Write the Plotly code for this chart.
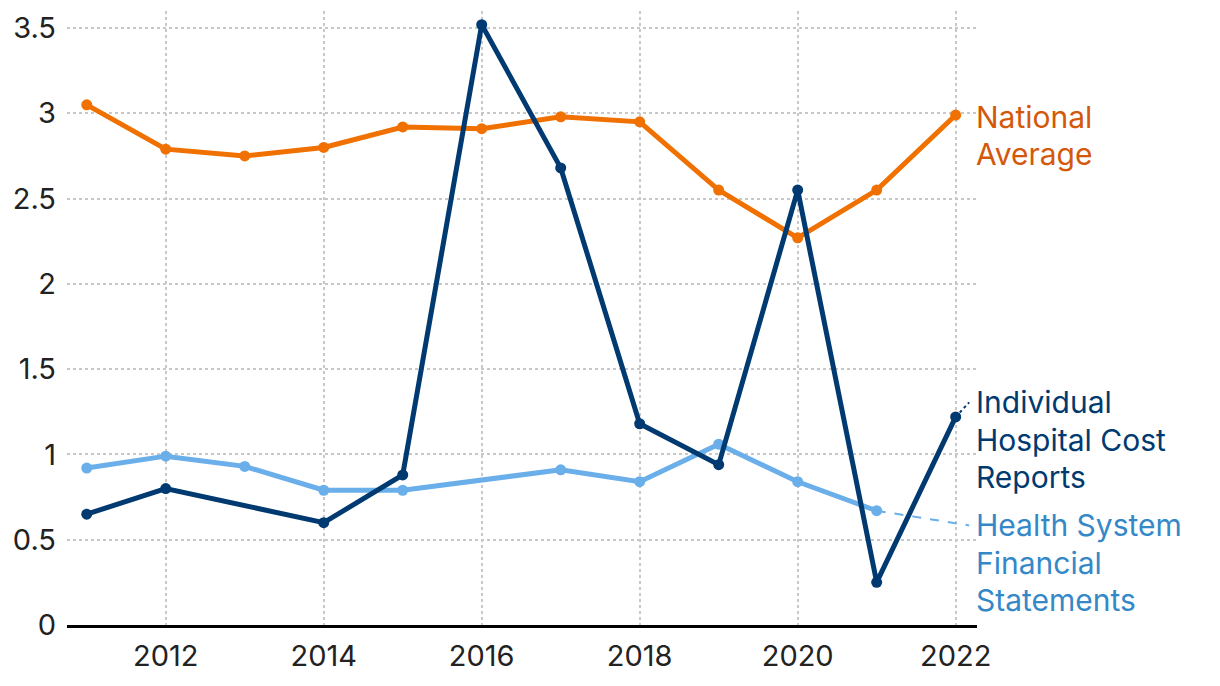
import plotly.graph_objects as go

years = [2011, 2012, 2013, 2014, 2015, 2016, 2017, 2018, 2019, 2020, 2021, 2022]
national_average = [3.05, 2.79, 2.75, 2.80, 2.92, 2.91, 2.98, 2.95, 2.55, 2.27, 2.55, 2.99]
individual_cost_reports = [0.65, 0.80, None, 0.60, 0.88, 3.52, 2.68, 1.18, 0.94, 2.55, 0.25, 1.22]
health_system_statements = [0.92, 0.99, 0.93, 0.79, 0.79, None, 0.91, 0.84, 1.06, 0.84, 0.67, None]

x_tick_vals = [2012, 2014, 2016, 2018, 2020, 2022]
y_tick_vals = [0, 0.5, 1, 1.5, 2, 2.5, 3, 3.5]

series = [
    # name lines, values, line color, text color, label anchor value, connector dash
    (["Health System", "Financial", "Statements"], health_system_statements, "#6AAEEA", "#3488C8", 0.584, "dash"),
    (["National", "Average"], national_average, "#F07000", "#D4580A", 2.98, None),
    (["Individual", "Hospital Cost", "Reports"], individual_cost_reports, "#003A70", "#003A70", 1.305, "dot"),
]

FONT = "Inter, 'Noto Sans', sans-serif"
fig = go.Figure()
shapes = []
annotations = []
label_x = 2022.17

for lines, vals, lc, tc, label_v, dash in series:
    fig.add_trace(go.Scatter(
        x=years, y=vals, mode="lines+markers", connectgaps=True,
        line=dict(color=lc, width=5), marker=dict(color=lc, size=11),
        name=" ".join(lines), showlegend=False, cliponaxis=False,
    ))
    last_x, last_y = [(x, v) for x, v in zip(years, vals) if v is not None][-1]
    if dash is not None:
        shapes.append(dict(type="line", xref="x", yref="y", x0=last_x, y0=last_y,
                           x1=label_x, y1=label_v, line=dict(color=lc, width=2, dash=dash),
                           layer="above"))
    for i, t in enumerate(lines):
        annotations.append(dict(
            text=t, xref="paper", x=1, xanchor="left", xshift=-3,
            yref="y", y=label_v, yanchor="middle", yshift=-i * 37.5,
            showarrow=False, font=dict(family=FONT, size=30, color=tc),
        ))

fig.update_layout(
    width=1220, height=686,
    margin=dict(l=59, r=251, t=3, b=69),
    paper_bgcolor="white", plot_bgcolor="white",
    shapes=shapes, annotations=annotations,
    font=dict(family=FONT, size=29, color="#222222"),
    xaxis=dict(range=[2010.75, 2022.27], tickvals=x_tick_vals, ticks="",
               showgrid=True, gridcolor="#c8c8c8", gridwidth=1.5, griddash="dot",
               showline=True, linecolor="#000000", linewidth=2.5, zeroline=False,
               ticklabelstandoff=3, tickfont=dict(size=29, color="#222222")),
    yaxis=dict(range=[0, 3.6], tickvals=y_tick_vals, ticks="",
               showgrid=True, gridcolor="#c8c8c8", gridwidth=1.5, griddash="dot",
               zeroline=False, showline=False,
               ticklabelstandoff=10, tickfont=dict(size=29, color="#222222")),
)

fig.write_html("out.html")
